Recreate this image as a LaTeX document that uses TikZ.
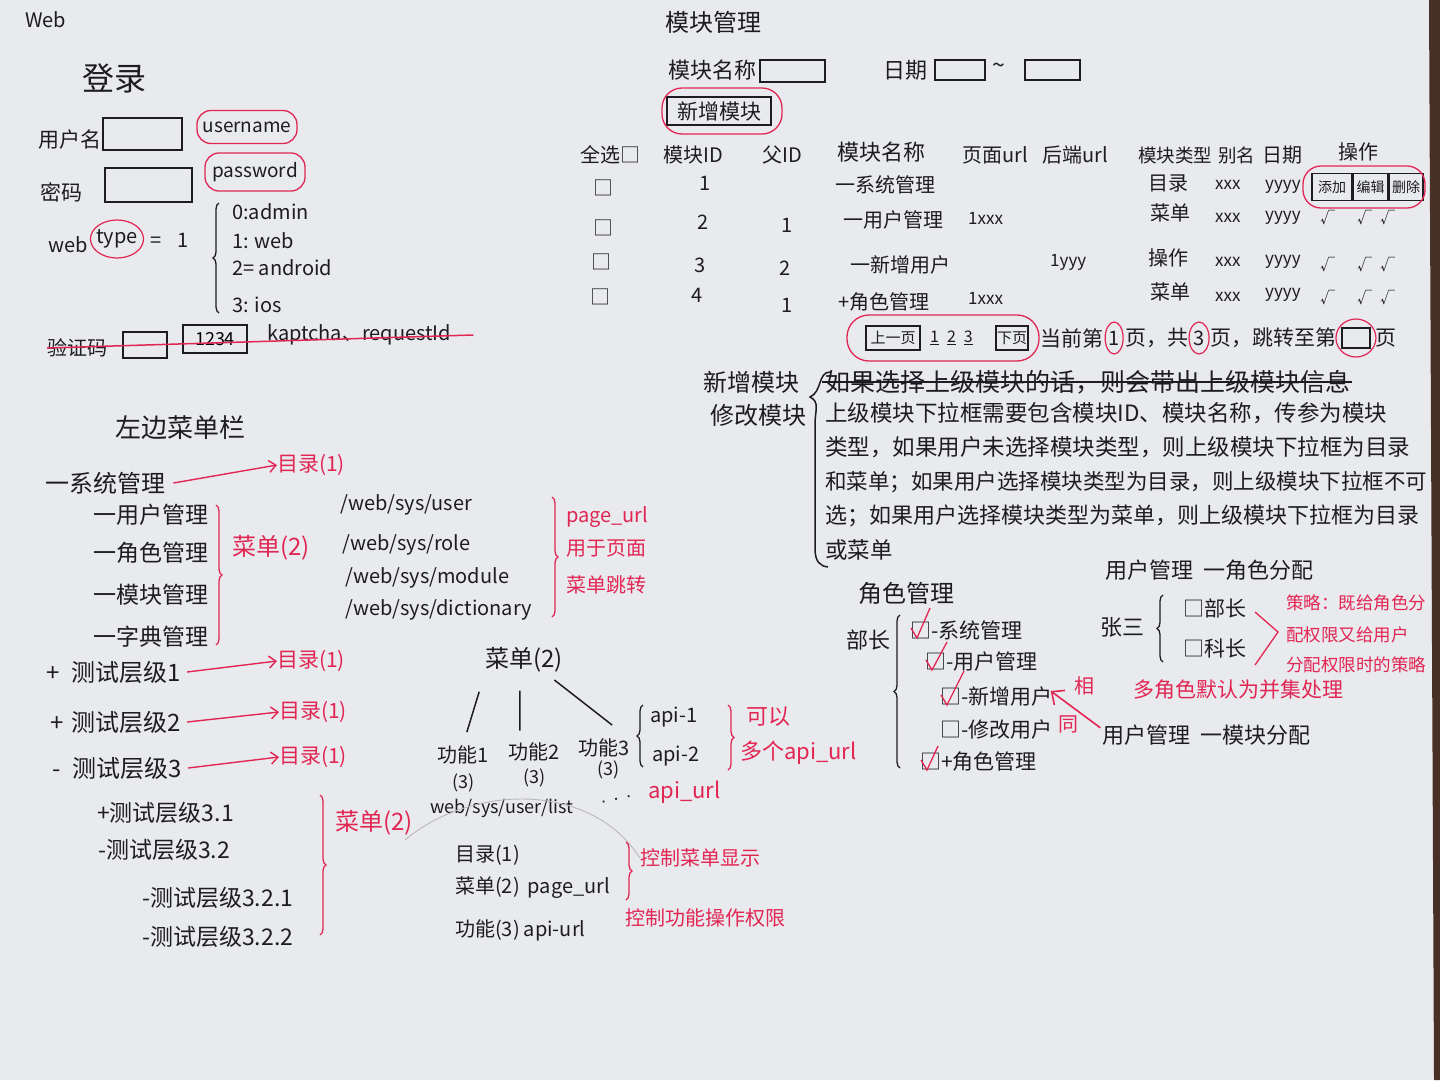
\documentclass[tikz,border=0pt]{standalone}
\usepackage{fontspec}
\setmainfont{Noto Sans CJK SC}
\usetikzlibrary{shapes.geometric,decorations.pathreplacing,arrows.meta,calc}
\definecolor{paper}{RGB}{233,234,237}
\definecolor{inkc}{RGB}{28,28,34}
\definecolor{redc}{RGB}{226,38,84}
\definecolor{edgec}{RGB}{72,48,38}
\begin{document}
\begin{tikzpicture}[x=1pt,y=-1pt,
 t/.style={anchor=west,inner sep=0pt,text=inkc,font=\fontsize{23}{26}\selectfont},
 tl/.style={t,font=\fontsize{20}{22}\selectfont},
 tc/.style={tl,anchor=center},
 r/.style={t,text=redc},
 rl/.style={tl,text=redc},
 bx/.style={draw=inkc,line width=1.5pt,inner sep=0pt},
 rov/.style={draw=redc,line width=1.3pt,rounded corners=14pt,inner sep=0pt},
 rcir/.style={draw=redc,line width=1.2pt,ellipse,inner sep=0pt},
 rarr/.style={draw=redc,line width=1.4pt,-{Straight Barb[length=7pt,width=12pt]}},
 brk/.style={decorate,decoration={brace,amplitude=6pt},draw=inkc,line width=1.3pt},
 rbrk/.style={brk,draw=redc},
 ln/.style={draw=inkc,line width=1.5pt},
 rck/.style={draw=redc,line width=1.3pt},
]
\fill[paper] (0,0) rectangle (1440,1080);
\useasboundingbox (0,0) rectangle (1440,1080);
\fill[edgec] (1429,0) -- (1440,0) -- (1440,1080) -- (1434,1080) -- cycle;

%% ---------------- login ----------------
\node[tl] (web) at (25,20) {Web};
\node[t,font=\fontsize{32}{34}\selectfont] (login) at (82,78) {登录};
\node[t,font=\fontsize{21}{24}\selectfont] (un) at (38,140) {用户名};
\node[bx,minimum width=79pt,minimum height=32pt] (unb) at (142.5,134) {};
\node[rov,minimum width=100pt,minimum height=33pt] (unov) at (247,127) {};
\node[tl,anchor=center,font=\fontsize{19}{22}\selectfont] (unl) at (unov) {username};
\node[t,font=\fontsize{21}{24}\selectfont] (pw) at (40,192) {密码};
\node[bx,minimum width=87pt,minimum height=34pt] (pwb) at (148.5,185) {};
\node[rov,minimum width=100pt,minimum height=38pt] (pwov) at (255,172) {};
\node[tl,anchor=center,font=\fontsize{19}{22}\selectfont] (pwl) at (pwov) {password};
\node[tl] (webt) at (48,245) {web};
\node[rcir,minimum width=53pt,minimum height=38pt] (tyov) at (117,239) {};
\node[tl,anchor=center] (tyl) at (tyov) {type};
\node[tl] (eq) at (150,240) {=\hspace{16pt}1};
\draw[brk] (219,313) -- (219,203);
\node[tl] (o0) at (232,212) {0:admin};
\node[tl] (o1) at (232,241) {1: web};
\node[tl] (o2) at (232,268) {2= android};
\node[tl] (o3) at (232,305) {3: ios};
\node[tl] (cap) at (47,348) {验证码};
\node[bx,minimum width=44pt,minimum height=26pt] (capb) at (145,345) {};
\node[bx,minimum width=64pt,minimum height=28pt,font=\fontsize{18}{20}\selectfont] (capn) at (215,339) {1234};
\node[tl] (kap) at (267,335) {kaptcha、requestId};
\draw[draw=redc,line width=1.5pt] (cap.west) -- ([xshift=22pt]kap.east);

%% ---------------- left menu ----------------
\node[t,font=\fontsize{26}{28}\selectfont] (mtitle) at (115,428) {左边菜单栏};
\node[t,font=\fontsize{24}{26}\selectfont] (sys) at (45,483) {一系统管理};
\node[r,font=\fontsize{21}{24}\selectfont] (d1) at (277,465) {目录(1)};
\draw[rarr] ([xshift=8pt]sys.east) -- (d1.west);
\node[t] (u1) at (93,515) {一用户管理};
\node[t] (u2) at (93,553) {一角色管理};
\node[t] (u3) at (93,595) {一模块管理};
\node[t] (u4) at (93,637) {一字典管理};
\draw[rbrk] (216,505) -- (216,645);
\node[r,font=\fontsize{24}{26}\selectfont] (m2a) at (232,548) {菜单(2)};
\node[tl] (url1) at (340,505) {/web/sys/user};
\node[tl] (url2) at (342,545) {/web/sys/role};
\node[tl] (url3) at (345,578) {/web/sys/module};
\node[tl] (url4) at (345,610) {/web/sys/dictionary};
\draw[rbrk] (552,497) -- (552,617);
\node[rl] (pu1) at (566,517) {page\_url};
\node[rl] (pu2) at (566,548) {用于页面};
\node[rl] (pu3) at (566,585) {菜单跳转};

\node[t,font=\fontsize{24}{26}\selectfont] (t1) at (46,672) {+\hspace{12pt}测试层级1};
\node[r,font=\fontsize{21}{24}\selectfont] (d2) at (277,661) {目录(1)};
\draw[rarr] ([xshift=6pt]t1.east) -- (d2.west);
\node[t,font=\fontsize{24}{26}\selectfont] (t2) at (50,722) {+\hspace{8pt}测试层级2};
\node[r,font=\fontsize{21}{24}\selectfont] (d3) at (279,712) {目录(1)};
\draw[rarr] ([xshift=6pt]t2.east) -- (d3.west);
\node[t,font=\fontsize{24}{26}\selectfont] (t3) at (52,768) {-\hspace{12pt}测试层级3};
\node[r,font=\fontsize{21}{24}\selectfont] (d4) at (279,757) {目录(1)};
\draw[rarr] ([xshift=6pt]t3.east) -- (d4.west);
\node[t] (t31) at (97,813) {+测试层级3.1};
\node[t] (t32) at (98,850) {-测试层级3.2};
\node[t] (t321) at (142,898) {-测试层级3.2.1};
\node[t] (t322) at (142,937) {-测试层级3.2.2};
\draw[rbrk] (320,795) -- (320,935);
\node[r,font=\fontsize{24}{26}\selectfont] (m2b) at (335,823) {菜单(2)};

%% ---------------- function tree ----------------
\node[t,font=\fontsize{24}{26}\selectfont] (mt) at (485,660) {菜单(2)};
\node[tl] (f1) at (437,755) {功能1};
\node[tl,font=\fontsize{18}{20}\selectfont] (f1n) at (452,783) {(3)};
\node[tl] (f2) at (508,752) {功能2};
\node[tl,font=\fontsize{18}{20}\selectfont] (f2n) at (523,778) {(3)};
\node[tl] (f3) at (578,748) {功能3};
\node[tl,font=\fontsize{18}{20}\selectfont] (f3n) at (597,770) {(3)};
\draw[ln,shorten <=20pt,shorten >=14pt] (mt.south west) -- (f1.north);
\draw[ln,shorten <=18pt,shorten >=12pt] ([xshift=-4pt]mt.south) -- ([xshift=-14pt]f2.north);
\draw[ln,shorten <=12pt,shorten >=22pt] ([xshift=-18pt]mt.south east) -- (f3.north east);
\draw[brk] (643,767) -- (643,705);
\node[tl] (a1) at (650,717) {api-1};
\node[tl] (a2) at (652,756) {api-2};
\draw[rbrk] (728,705) -- (728,770);
\node[r,font=\fontsize{22}{24}\selectfont] (ke) at (746,717) {可以};
\node[r,font=\fontsize{22}{24}\selectfont] (duo) at (740,753) {多个api\_url};
\node[tl,font=\fontsize{18}{20}\selectfont] (list) at (430,808) {web/sys/user/list};
\node[r,font=\fontsize{22}{24}\selectfont] (aurl) at (648,792) {api\_url};
\draw[draw=inkc,line width=1.8pt,dash pattern=on 1.8pt off 11pt,shorten <=30pt,shorten >=8pt] (list.east) -- (aurl.west);
\draw[gray!55,line width=0.9pt] (405,840) .. controls (470,785) and (590,780) .. (640,858);
\node[tl] (l1) at (455,855) {目录(1)};
\node[tl] (l2) at (455,888) {菜单(2)\hspace{8pt}page\_url};
\node[tl] (l3) at (455,930) {功能(3)\hspace{4pt}api-url};
\draw[rbrk] (626,842) -- (626,900);
\node[rl] (c1) at (640,858) {控制菜单显示};
\node[rl] (c2) at (625,918) {控制功能操作权限};

%% ---------------- module management ----------------
\node[t,font=\fontsize{24}{26}\selectfont] (mm) at (665,22) {模块管理};
\node[t,font=\fontsize{22}{24}\selectfont] (mn) at (668,70) {模块名称};
\node[bx,minimum width=65pt,minimum height=22pt] (mnb) at (792.5,71) {};
\node[t,font=\fontsize{22}{24}\selectfont] (dt) at (883,70) {日期};
\node[bx,minimum width=50pt,minimum height=20pt] (dtb1) at (960,70) {};
\node[t] (tl1) at (992,68) {\~{}};
\node[bx,minimum width=55pt,minimum height=20pt] (dtb2) at (1052.5,70) {};
\node[bx,minimum width=104pt,minimum height=28pt,font=\fontsize{21}{24}\selectfont,text=inkc] (addb) at (719,111) {新增模块};
\node[rov,minimum width=120pt,minimum height=46pt,rounded corners=20pt] (addov) at (722,111) {};

\node[tl] (h1) at (580,155) {全选□};
\node[tl] (h2) at (663,155) {模块ID};
\node[tl] (h3) at (762,155) {父ID};
\node[tl,font=\fontsize{22}{24}\selectfont] (h4) at (837,152) {模块名称};
\node[tl] (h5) at (962,155) {页面url};
\node[tl] (h6) at (1042,155) {后端url};
\node[tl,font=\fontsize{18.5}{22}\selectfont] (h7) at (1138,155) {模块类型};
\node[tl,font=\fontsize{18.5}{22}\selectfont] (h8) at (1218,155) {别名};
\node[tl] (h9) at (1262,155) {日期};
\node[tl] (h10) at (1338,152) {操作};

% row 1
\node[tc] (c11) at (603,188) {□};
\node[tc] (c12) at (705,183) {1};
\node[tl] (c14) at (835,185) {一系统管理};
\node[tl] (c17) at (1148,183) {目录};
\node[tl,font=\fontsize{17}{20}\selectfont] (c18) at (1215,185) {xxx};
\node[tl,font=\fontsize{17}{20}\selectfont] (c19) at (1265,187) {yyyy};
\node[bx,minimum width=40pt,minimum height=27pt,font=\fontsize{14}{16}\selectfont,text=inkc] (op1) at (1332,187) {添加};
\node[bx,minimum width=34pt,minimum height=27pt,font=\fontsize{14}{16}\selectfont,text=inkc,anchor=west] (op2) at (op1.east) {编辑};
\node[bx,minimum width=34pt,minimum height=27pt,font=\fontsize{14}{16}\selectfont,text=inkc,anchor=west] (op3) at (op2.east) {删除};
\node[rov,minimum width=122pt,minimum height=42pt,rounded corners=18pt] (opov) at (1364,187) {};
% row 2
\node[tc] (c21) at (603,228) {□};
\node[tc] (c22) at (703,222) {2};
\node[tc] (c23) at (787,225) {1};
\node[tl] (c24) at (843,220) {一用户管理};
\node[tl,font=\fontsize{17}{20}\selectfont] (c25) at (968,218) {1xxx};
\node[tl] (c27) at (1150,213) {菜单};
\node[tl,font=\fontsize{17}{20}\selectfont] (c28) at (1215,218) {xxx};
\node[tl,font=\fontsize{17}{20}\selectfont] (c29) at (1265,218) {yyyy};
\node[tl,font=\fontsize{15}{18}\selectfont] (c20) at (1320,218) {√\hspace{22pt}√\hspace{8pt}√};
% row 3
\node[tc] (c31) at (601,262) {□};
\node[tc] (c32) at (700,265) {3};
\node[tc] (c33) at (785,268) {2};
\node[tl] (c34) at (850,265) {一新增用户};
\node[tl,font=\fontsize{17}{20}\selectfont] (c36) at (1050,262) {1yyy};
\node[tl] (c37) at (1148,258) {操作};
\node[tl,font=\fontsize{17}{20}\selectfont] (c38) at (1215,262) {xxx};
\node[tl,font=\fontsize{17}{20}\selectfont] (c39) at (1265,262) {yyyy};
\node[tl,font=\fontsize{15}{18}\selectfont] (c30) at (1320,265) {√\hspace{22pt}√\hspace{8pt}√};
% row 4
\node[tc] (c41) at (600,297) {□};
\node[tc] (c42) at (697,295) {4};
\node[tc] (c43) at (787,305) {1};
\node[tl] (c44) at (838,302) {+角色管理};
\node[tl,font=\fontsize{17}{20}\selectfont] (c45) at (968,298) {1xxx};
\node[tl] (c47) at (1150,292) {菜单};
\node[tl,font=\fontsize{17}{20}\selectfont] (c48) at (1215,297) {xxx};
\node[tl,font=\fontsize{17}{20}\selectfont] (c49) at (1265,295) {yyyy};
\node[tl,font=\fontsize{15}{18}\selectfont] (c40) at (1320,298) {√\hspace{22pt}√\hspace{8pt}√};

% pagination
\node[bx,minimum width=54pt,minimum height=24pt,font=\fontsize{15}{18}\selectfont,text=inkc] (prev) at (893,338) {上一页};
\node[tl,font=\fontsize{16}{18}\selectfont] (pg) at (930,338) {\underline{1}\hspace{8pt}\underline{2}\hspace{8pt}\underline{3}};
\node[bx,minimum width=32pt,minimum height=24pt,font=\fontsize{15}{18}\selectfont,text=inkc] (next) at (1012,338) {下页};
\node[rov,minimum width=192pt,minimum height=46pt,rounded corners=22pt] (pgov) at (943,338) {};
\node[t,font=\fontsize{21}{24}\selectfont] (p1) at (1040,338) {当前第};
\node[t,font=\fontsize{20}{24}\selectfont] (p2) at ([xshift=5pt]p1.east) {1};
\node[rcir,minimum width=18pt,minimum height=32pt] (p2c) at (p2) {};
\node[t,font=\fontsize{21}{24}\selectfont] (p3) at ([xshift=5pt]p2.east) {页，共};
\node[t,font=\fontsize{20}{24}\selectfont] (p4) at ([xshift=5pt]p3.east) {3};
\node[rcir,minimum width=20pt,minimum height=32pt] (p4c) at (p4) {};
\node[t,font=\fontsize{21}{24}\selectfont] (p5) at ([xshift=5pt]p4.east) {页，跳转至第};
\node[bx,minimum width=28pt,minimum height=20pt,anchor=west] (p6) at ([xshift=5pt]p5.east) {};
\node[rcir,minimum width=40pt,minimum height=38pt] (p6c) at (p6) {};
\node[t,font=\fontsize{21}{24}\selectfont] (p7) at ([xshift=5pt]p6.east) {页};

%% ---------------- add / edit module ----------------
\node[t,font=\fontsize{24}{26}\selectfont] (nm1) at (703,382) {新增模块};
\node[t,font=\fontsize{24}{26}\selectfont] (nm2) at (710,415) {修改模块};
\draw[ln] (830,372) .. controls (818,372) and (822,392) .. (810,397) .. controls (820,402) and (815,410) .. (815,425) -- (815,548) .. controls (815,562) and (820,566) .. (828,567);
\node[t,font=\fontsize{25}{28}\selectfont] (st) at (825,382) {如果选择上级模块的话，则会带出上级模块信息};
\draw[draw=inkc,line width=2.2pt] ([xshift=-3pt]st.west) -- ([xshift=2pt]st.east);
\node[t,font=\fontsize{22.5}{26}\selectfont] (b1) at (825,413) {上级模块下拉框需要包含模块ID、模块名称，传参为模块};
\node[t,font=\fontsize{22.5}{26}\selectfont] (b2) at (825,447) {类型，如果用户未选择模块类型，则上级模块下拉框为目录};
\node[t,font=\fontsize{21.5}{26}\selectfont] (b3) at (825,482) {和菜单；如果用户选择模块类型为目录，则上级模块下拉框不可};
\node[t,font=\fontsize{22}{26}\selectfont] (b4) at (825,516) {选；如果用户选择模块类型为菜单，则上级模块下拉框为目录};
\node[t,font=\fontsize{22.5}{26}\selectfont] (b5) at (825,550) {或菜单};

%% ---------------- role management ----------------
\node[t,font=\fontsize{24}{26}\selectfont] (rm) at (858,593) {角色管理};
\node[t,font=\fontsize{22}{24}\selectfont] (bz) at (846,640) {部长};
\draw[brk] (900,768) -- (900,615);
\node[t,font=\fontsize{21}{24}\selectfont] (r1) at (910,630) {□-系统管理};
\node[t,font=\fontsize{21}{24}\selectfont] (r2) at (925,662) {□-用户管理};
\node[t,font=\fontsize{21}{24}\selectfont] (r3) at (940,697) {□-新增用户};
\node[t,font=\fontsize{21}{24}\selectfont] (r4) at (940,730) {□-修改用户};
\node[t,font=\fontsize{21}{24}\selectfont] (r5) at (920,762) {□+角色管理};
\draw[rck] ($(r1.west)+(1,-2)$) -- ($(r1.west)+(7,8)$) -- ($(r1.west)+(20,-22)$);
\draw[rck] ($(r2.west)+(1,-2)$) -- ($(r2.west)+(7,8)$) -- ($(r2.west)+(22,-20)$);
\draw[rck] ($(r3.west)+(1,-2)$) -- ($(r3.west)+(7,8)$) -- ($(r3.west)+(24,-26)$);
\draw[rck] ($(r5.west)+(1,-2)$) -- ($(r5.west)+(7,8)$) -- ($(r5.west)+(18,-16)$);

\node[t,font=\fontsize{22}{24}\selectfont] (ur) at (1105,570) {用户管理\hspace{10pt}一角色分配};
\node[t,font=\fontsize{22}{24}\selectfont] (zs) at (1100,627) {张三};
\draw[brk] (1163,662) -- (1163,595);
\node[t,font=\fontsize{21}{24}\selectfont] (k1) at (1183,608) {□部长};
\node[t,font=\fontsize{21}{24}\selectfont] (k2) at (1183,648) {□科长};
\draw[rck] (1255,612) -- (1278,632) -- (1255,665);
\node[r,font=\fontsize{17.5}{22}\selectfont] (pol1) at (1286,603) {策略：既给角色分};
\node[r,font=\fontsize{17.5}{22}\selectfont] (pol2) at (1286,635) {配权限又给用户};
\node[r,font=\fontsize{17.5}{22}\selectfont] (pol3) at (1286,665) {分配权限时的策略};
\node[r,font=\fontsize{21}{24}\selectfont] (multi) at (1133,690) {多角色默认为并集处理};
\node[t,font=\fontsize{22}{24}\selectfont] (um) at (1102,735) {用户管理\hspace{10pt}一模块分配};
\draw[draw=redc,line width=1.6pt,-{Straight Barb[length=10pt,width=18pt]},shorten <=2pt] ([yshift=6pt]um.west) -- ([xshift=-2pt,yshift=6pt]r3.east);
\node[r,font=\fontsize{20}{22}\selectfont] (xs) at (1074,686) {相};
\node[r,font=\fontsize{20}{22}\selectfont] (tg) at (1058,724) {同};
\end{tikzpicture}
\end{document}
